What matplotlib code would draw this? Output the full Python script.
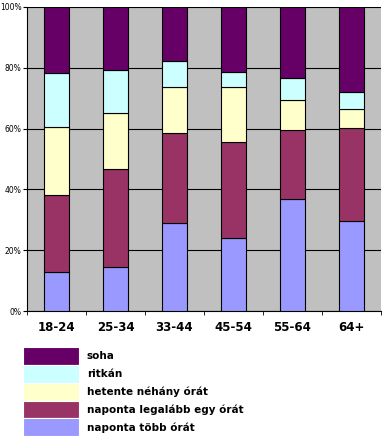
import matplotlib
matplotlib.use('Agg')
from matplotlib import pyplot as plt
from matplotlib.patches import Patch
import numpy as np

categories = ["18-24", "25-34", "33-44", "45-54", "55-64", "64+"]
# percentages, stacked from bottom to top
tobb_orat = [12.9, 14.4, 28.8, 23.9, 36.9, 29.5]
legalabb_egy = [25.2, 32.2, 29.9, 31.8, 22.7, 30.7]
hetente = [22.5, 18.4, 14.9, 17.9, 9.8, 6.2]
ritkan = [17.7, 14.4, 8.7, 5.0, 7.3, 5.7]
soha = [21.7, 20.6, 17.7, 21.4, 23.3, 27.9]

series_labels = ["naponta több órát", "naponta legalább egy órát",
                 "hetente néhány órát", "ritkán", "soha"]
series_colors = ["#9999FF", "#993366", "#FFFFCC", "#CCFFFF", "#660066"]

fig = plt.figure(figsize=(3.85, 4.44), dpi=100)
ax = fig.add_axes([27/385, 133/444, 354/385, 304/444])
ax.set_facecolor("#C0C0C0")

x = np.arange(len(categories))
bottom = np.zeros(len(categories))
series = [tobb_orat, legalabb_egy, hetente, ritkan, soha]
for vals, col, lab in zip(series, series_colors, series_labels):
    ax.bar(x, vals, bottom=bottom, width=0.41, color=col, edgecolor="black",
           linewidth=0.8, label=lab, zorder=3)
    bottom += np.array(vals)

ax.set_xlim(-0.5, len(categories) - 0.5)
ax.set_ylim(0, 100)
ax.set_yticks(np.arange(0, 101, 20))
ax.set_yticklabels([f"{v}%" for v in range(0, 101, 20)], fontsize=5.5)
ax.yaxis.grid(True, color="black", linewidth=0.8, zorder=0)
ax.set_axisbelow(True)

ax.set_xticks(x)
ax.set_xticklabels(categories, fontsize=8.5, fontweight="bold")
ax.set_xticks(np.arange(-0.5, len(categories)), minor=True)
ax.tick_params(axis="x", which="major", length=0, pad=7)
ax.tick_params(axis="x", which="minor", length=3, direction="out")
ax.tick_params(axis="y", length=3, pad=1)

for s in ["top", "right"]:
    ax.spines[s].set_visible(False)
ax.spines["left"].set_linewidth(0.8)
ax.spines["bottom"].set_linewidth(0.8)

handles = [Patch(facecolor=c, edgecolor="white", linewidth=0.8)
           for c in series_colors[::-1]]
fig.legend(handles, series_labels[::-1], loc="upper left",
           bbox_to_anchor=(16/385, 1 - 340/444), frameon=False,
           prop={"size": 7.5, "weight": "bold"},
           handlelength=5.3, handleheight=2.25, labelspacing=0.0,
           handletextpad=0.8, borderpad=0.2)

fig.savefig("out.png", dpi=100, facecolor="white")
